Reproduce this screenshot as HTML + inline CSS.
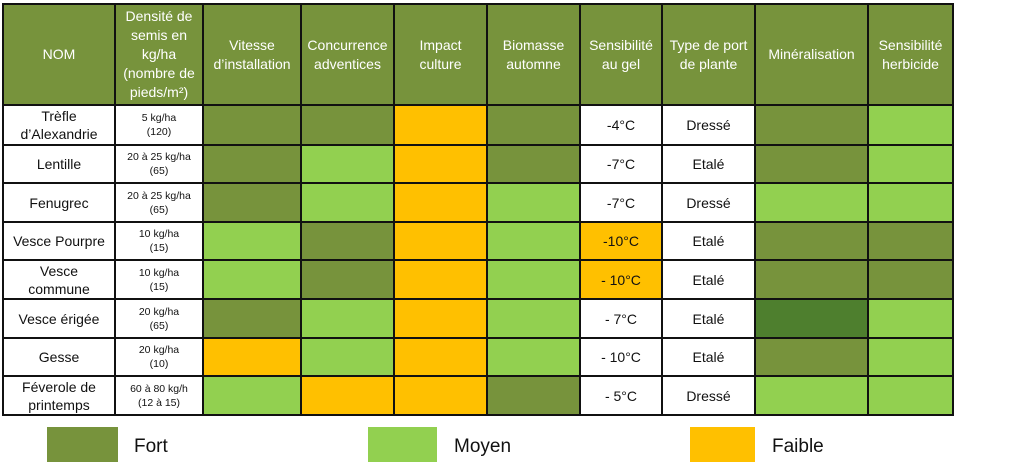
<!DOCTYPE html>
<html><head><meta charset="utf-8"><style>
body{margin:0;width:1013px;height:470px;background:#fff;position:relative;overflow:hidden;font-family:"Liberation Sans",sans-serif;}
table{position:absolute;left:2px;top:3px;border-collapse:collapse;table-layout:fixed;}
td{border:2px solid #111;padding:0;text-align:center;vertical-align:middle;font-size:14px;line-height:18px;color:#111;overflow:hidden}
td:first-child{padding:0 7px}
th{border:2px solid #111;background:#77933C;color:#fff;font-weight:normal;font-size:14px;line-height:19px;padding:0 3px}
th.n{padding:0 10px}
.D{background:#77933C}.L{background:#92D050}.O{background:#FFC000}.X{background:#4E7F2E}
.s{font-size:10.5px;line-height:14px}
.leg{position:absolute;top:427px;height:35px}
.lt{position:absolute;top:436px;font-size:19px;color:#111}
</style></head><body>
<table>
<colgroup><col style="width:112px"><col style="width:88px"><col style="width:98px"><col style="width:93px"><col style="width:93px"><col style="width:93px"><col style="width:82px"><col style="width:93px"><col style="width:113px"><col style="width:85px"></colgroup>
<tr style="height:101px"><th>NOM</th><th>Densité de semis en kg/ha (nombre de pieds/m²)</th><th>Vitesse d’installation</th><th>Concurrence adventices</th><th class="n">Impact culture</th><th>Biomasse automne</th><th>Sensibilité au gel</th><th>Type de port de plante</th><th>Minéralisation</th><th>Sensibilité herbicide</th></tr>
<tr style="height:40px"><td>Trèfle d’Alexandrie</td><td class="s">5 kg/ha<br>(120)</td><td class="D"></td><td class="D"></td><td class="O"></td><td class="D"></td><td>-4°C</td><td>Dressé</td><td class="D"></td><td class="L"></td></tr>
<tr style="height:38px"><td>Lentille</td><td class="s">20 à 25 kg/ha<br>(65)</td><td class="D"></td><td class="L"></td><td class="O"></td><td class="D"></td><td>-7°C</td><td>Etalé</td><td class="D"></td><td class="L"></td></tr>
<tr style="height:39px"><td>Fenugrec</td><td class="s">20 à 25 kg/ha<br>(65)</td><td class="D"></td><td class="L"></td><td class="O"></td><td class="L"></td><td>-7°C</td><td>Dressé</td><td class="L"></td><td class="L"></td></tr>
<tr style="height:38px"><td>Vesce Pourpre</td><td class="s">10 kg/ha<br>(15)</td><td class="L"></td><td class="D"></td><td class="O"></td><td class="L"></td><td class="O">-10°C</td><td>Etalé</td><td class="D"></td><td class="D"></td></tr>
<tr style="height:39px"><td>Vesce commune</td><td class="s">10 kg/ha<br>(15)</td><td class="L"></td><td class="D"></td><td class="O"></td><td class="L"></td><td class="O">- 10°C</td><td>Etalé</td><td class="D"></td><td class="D"></td></tr>
<tr style="height:39px"><td>Vesce érigée</td><td class="s">20 kg/ha<br>(65)</td><td class="D"></td><td class="L"></td><td class="O"></td><td class="L"></td><td>- 7°C</td><td>Etalé</td><td class="X"></td><td class="L"></td></tr>
<tr style="height:38px"><td>Gesse</td><td class="s">20 kg/ha<br>(10)</td><td class="O"></td><td class="L"></td><td class="O"></td><td class="L"></td><td>- 10°C</td><td>Etalé</td><td class="D"></td><td class="L"></td></tr>
<tr style="height:39px"><td>Féverole de printemps</td><td class="s">60 à 80 kg/h<br>(12 à 15)</td><td class="L"></td><td class="O"></td><td class="O"></td><td class="D"></td><td>- 5°C</td><td>Dressé</td><td class="L"></td><td class="L"></td></tr>
</table>
<div class="leg D" style="left:47px;width:71px"></div><div class="lt" style="left:134px">Fort</div>
<div class="leg L" style="left:368px;width:69px"></div><div class="lt" style="left:454px">Moyen</div>
<div class="leg O" style="left:690px;width:65px"></div><div class="lt" style="left:772px">Faible</div>
</body></html>
